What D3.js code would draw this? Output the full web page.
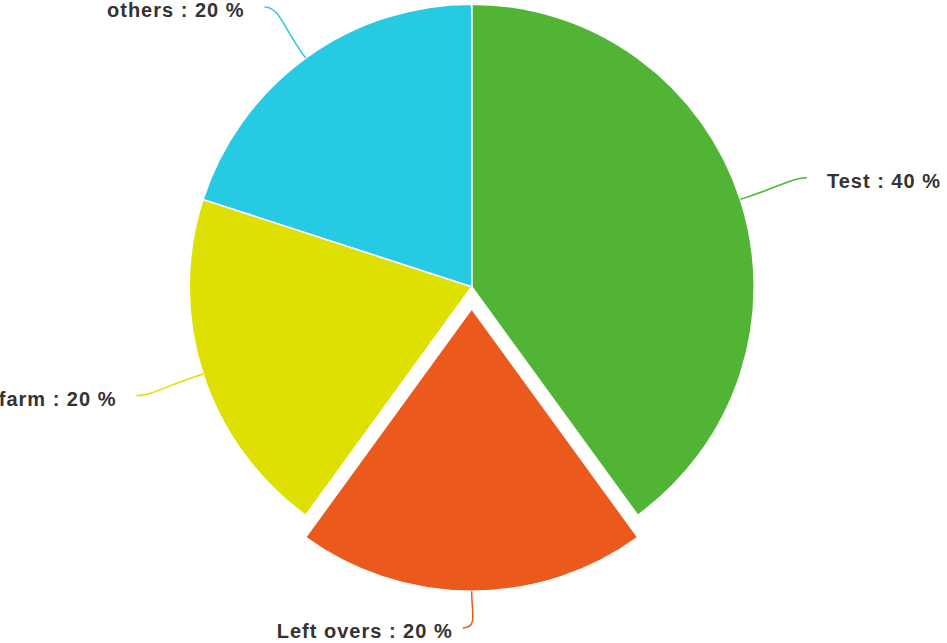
<!DOCTYPE html>
<html>
<head>
<meta charset="utf-8">
<script src="https://cdn.jsdelivr.net/npm/d3@7"></script>
<style>
    body { margin: 0; background: #fff; }
    svg { display: block; }
    .label { font-family: "Liberation Sans", Arial, sans-serif; font-weight: bold; font-size: 20px; fill: #333; letter-spacing: 1px; }
</style>
</head>
<body>
<svg id="pie" width="947" height="643"></svg>
<script>
// slice data
var categories = ["Test", "Left overs", "farm", "others"];
var values = [40, 20, 20, 20];
var colors = ["#52b435", "#eb591d", "#dde000", "#26cae3"];
var sliced = [false, true, false, false];

var width = 947, height = 643;
var cx = 471.7, cy = 286.7;
var radius = 282.5;
var slicedOffset = 22;
var labelDistance = 70;

let data = categories.map(function (c, i) {
    return { name: c, value: values[i], color: colors[i], sliced: sliced[i] };
});

let total = d3.sum(values);

let pie = d3.pie()
    .value(function (d) { return d.value; })
    .sort(null);

let arc = d3.arc()
    .innerRadius(0)
    .outerRadius(radius);

let svg = d3.select("#pie");
let g = svg.append("g").attr("transform", "translate(" + cx + "," + cy + ")");

let arcs = pie(data);

// offset vector for a slice (d3 angles go clockwise from 12 o'clock)
function offset(d) {
    let a = (d.startAngle + d.endAngle) / 2;
    let o = d.data.sliced ? slicedOffset : 0;
    return [Math.sin(a) * o, -Math.cos(a) * o];
}

g.selectAll("path.slice")
    .data(arcs)
    .enter()
    .append("path")
    .attr("class", "slice")
    .attr("d", arc)
    .attr("transform", function (d) {
        let o = offset(d);
        return "translate(" + o[0] + "," + o[1] + ")";
    })
    .style("fill", function (d) { return d.data.color; })
    .style("stroke", "#fff")
    .style("stroke-width", 1.5);

// connectors + labels
arcs.forEach(function (d) {
    let a = (d.startAngle + d.endAngle) / 2;
    let ux = Math.sin(a), uy = -Math.cos(a);
    let o = offset(d);
    let left = ux < 0.01;
    let side = left ? -1 : 1;

    let touch = [o[0] + ux * radius, o[1] + uy * radius];
    let end = [o[0] + ux * (radius + labelDistance), o[1] + uy * (radius + labelDistance)];

    // keep labels inside the canvas
    let minY = 7 - cy, maxY = height - 15 - cy;
    let clamped = false;
    if (end[1] < minY) { end[1] = minY; }
    if (end[1] > maxY) { end[1] = maxY; clamped = true; }
    if (clamped) { end[0] += side * 9; }

    let dist = Math.hypot(end[0] - touch[0], end[1] - touch[1]);
    let c1 = [touch[0] + ux * dist * 0.6, touch[1] + uy * dist * 0.6];
    let c2 = [end[0] - side * 15, end[1]];

    let path = d3.path();
    path.moveTo(touch[0], touch[1]);
    path.bezierCurveTo(c1[0], c1[1], c2[0], c2[1], end[0], end[1]);

    g.append("path")
        .attr("d", path.toString())
        .style("fill", "none")
        .style("stroke", d.data.color)
        .style("stroke-width", 1.5);

    let gap = clamped ? 10 : 20;
    g.append("text")
        .attr("class", "label")
        .attr("x", end[0] + side * gap)
        .attr("y", end[1] + 10)
        .attr("text-anchor", left ? "end" : "start")
        .text(d.data.name + " : " + Math.round(d.data.value / total * 100) + " %");
});
</script>
</body>
</html>
